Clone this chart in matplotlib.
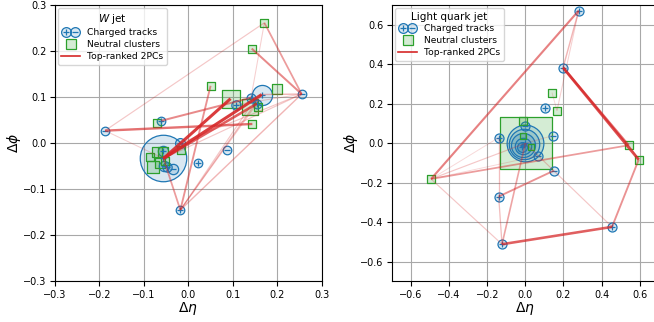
import matplotlib
matplotlib.use("Agg")
import matplotlib.pyplot as plt
from matplotlib.lines import Line2D
from matplotlib.legend_handler import HandlerTuple

# W jet: charged tracks (eta, phi, charge, pt) and neutral clusters (eta, phi, e)
w_trk_eta = [-0.1875, -0.061, 0.255, 0.108, 0.087, 0.022, -0.018, 0.141, 0.154, 0.165, -0.019, -0.056, -0.056, -0.054, -0.035, -0.048]
w_trk_phi = [0.0275, 0.049, 0.107, 0.084, -0.0145, -0.0435, -0.145, 0.099, 0.086, 0.106, 0.0, -0.033, -0.016, -0.049, -0.056, -0.052]
w_trk_q = ['-', '+', '-', '+', '-', '+', '+', '+', '+', '+', '-', '+', '+', '-', '-', '+']
w_trk_pt = [3.8, 3.8, 3.8, 4.5, 3.8, 3.8, 3.8, 4.2, 4.0, 21.0, 5.0, 112.0, 5.5, 5.5, 5.5, 4.5]

w_neu_eta = [0.171, 0.1425, 0.050, 0.199, 0.095, 0.139, 0.157, -0.071, 0.144, -0.0164, -0.070, -0.086, -0.079, -0.064, -0.052, -0.056]
w_neu_phi = [0.262, 0.206, 0.125, 0.118, 0.097, 0.080, 0.080, 0.045, 0.042, -0.0146, -0.018, -0.030, -0.051, -0.042, -0.038, -0.018]
w_neu_e = [2.8, 2.8, 2.8, 6.0, 15.0, 13.0, 2.8, 2.8, 2.8, 3.3, 5.0, 3.3, 7.5, 5.0, 3.3, 4.2]

# pairs (a, b, score) of the top-ranked 2PCs
w_pairs = [
    ("c11", "n4", 1.0), ("c11", "c9", 1.0), ("c11", "c8", 0.8), ("c0", "n8", 0.7),
    ("c1", "c7", 0.55), ("c0", "n0", 0.2), ("c0", "c11", 0.15), ("n0", "c2", 0.45),
    ("n1", "c2", 0.55), ("n0", "c7", 0.15), ("c6", "n2", 0.5), ("c6", "c11", 0.45),
    ("c6", "c2", 0.3), ("c6", "c8", 0.2), ("c6", "c9", 0.25), ("c6", "n5", 0.2),
    ("c11", "c2", 0.2), ("c2", "c10", 0.2), ("c2", "c3", 0.15), ("c9", "c2", 0.3),
]

# light quark jet
q_trk_eta = [0.280, 0.198, 0.105, 0.0, -0.14, 0.145, 0.065, 0.149, -0.14, -0.1225, 0.455, 0.0, -0.005, -0.01, -0.012, -0.015]
q_trk_phi = [0.673, 0.384, 0.177, 0.088, 0.029, 0.039, -0.064, -0.139, -0.27, -0.512, -0.424, 0.0, -0.005, -0.01, -0.015, -0.02]
q_trk_q = ['+', '+', '+', '-', '+', '-', '-', '-', '+', '+', '+', '+', '-', '+', '-', '+']
q_trk_pt = [4.2, 4.2, 4.2, 4.2, 4.2, 4.2, 4.2, 4.2, 4.2, 4.2, 4.2, 70.0, 48.0, 30.0, 14.0, 5.0]

q_neu_eta = [0.14, 0.166, -0.012, 0.005, 0.542, 0.595, -0.495, -0.01, 0.03]
q_neu_phi = [0.257, 0.166, 0.113, 0.0, -0.01, -0.083, -0.181, 0.035, -0.02]
q_neu_e = [2.8, 2.8, 2.8, 135.0, 2.8, 2.8, 2.8, 1.8, 1.8]

q_pairs = [
    ("n6", "c0", 0.6), ("c0", "c1", 0.3), ("c1", "n5", 0.9), ("c1", "n4", 0.7),
    ("c0", "n1", 0.15), ("n5", "c10", 0.5), ("c10", "c9", 0.8), ("c9", "c8", 0.25),
    ("c9", "c11", 0.4), ("c8", "c7", 0.5), ("n6", "n4", 0.45), ("n6", "c11", 0.2),
    ("n6", "c9", 0.2), ("n6", "c4", 0.1), ("c11", "c10", 0.2), ("c4", "c8", 0.25),
    ("n6", "c6", 0.1), ("n4", "n5", 0.3), ("c11", "c5", 0.1), ("n0", "n1", 0.1),
]

BLUE = "#1f77b4"
GREEN = "#2ca02c"
RED = "#d62728"
BLUE_F = (0.12, 0.47, 0.71, 0.17)
GREEN_F = (0.17, 0.63, 0.17, 0.2)


def draw_jet(ax, te, tp, tq, tpt, ne, nphi, nen, pairs):
    marks = []
    for x, y, q, pt in zip(te, tp, tq, tpt):
        marks.append((pt * 10, "o", x, y, BLUE_F, BLUE))
    for x, y, e in zip(ne, nphi, nen):
        marks.append((e * 10, "s", x, y, GREEN_F, GREEN))
    marks.sort(key=lambda m: -m[0])
    for k, (s, mk, x, y, fc, ec) in enumerate(marks):
        ax.scatter([x], [y], s=s, marker=mk, facecolor=fc, edgecolor=ec,
                   linewidth=0.9, zorder=3 + k * 0.01)
    for x, y, q in zip(te, tp, tq):
        ax.scatter([x], [y], s=14, marker="+" if q == "+" else "_",
                   color=BLUE, linewidth=0.9, zorder=4)

    def pos(key):
        i = int(key[1:])
        if key[0] == "c":
            return te[i], tp[i]
        return ne[i], nphi[i]

    for a, b, w in pairs:
        (x0, y0), (x1, y1) = pos(a), pos(b)
        ax.plot([x0, x1], [y0, y1], color=RED, alpha=0.1 + 0.8 * w,
                linewidth=0.5 + 1.7 * w, zorder=5, solid_capstyle="butt")


def style(ax, lim, step, title):
    ax.set_xlim(-lim, lim)
    ax.set_ylim(-lim, lim)
    n = int(round(lim / step))
    ticks = [round(i * step, 2) for i in range(-n, n + 1)]
    ax.set_xticks(ticks)
    ax.set_yticks(ticks)
    ax.tick_params(labelsize=7, length=3.5, width=0.8, pad=2.5)
    ax.grid(True, color="#a8a8a8", linewidth=0.8)
    ax.set_axisbelow(True)
    ax.set_xlabel(r"$\Delta\eta$", fontsize=10, labelpad=0)
    ax.set_ylabel(r"$\Delta\phi$", fontsize=10, labelpad=0)

    c_plus = (Line2D([], [], marker="o", ms=7, ls="", mfc=BLUE_F, mec=BLUE, mew=0.9),
              Line2D([], [], marker="+", ms=4, ls="", color=BLUE, mew=0.9))
    c_minus = (Line2D([], [], marker="o", ms=7, ls="", mfc=BLUE_F, mec=BLUE, mew=0.9),
               Line2D([], [], marker="_", ms=4, ls="", color=BLUE, mew=0.9))
    charged = (c_plus, c_minus)
    neutral = Line2D([], [], marker="s", ms=7, ls="", mfc=GREEN_F, mec=GREEN, mew=0.9)
    pcs = Line2D([], [], color=RED, lw=1.2)
    leg = ax.legend([charged, neutral, pcs],
                    ["Charged tracks", "Neutral clusters", "Top-ranked 2PCs"],
                    handler_map={charged: HandlerTuple(ndivide=None, pad=0.0)},
                    loc="upper left", fontsize=6.6, title=title, title_fontsize=7.5,
                    handlelength=2.0, handletextpad=0.8, borderaxespad=0.3,
                    labelspacing=0.3, framealpha=0.8)
    leg.set_zorder(10)


fig = plt.figure(figsize=(6.54, 3.22), dpi=100)
ax1 = fig.add_axes([55 / 654, 40.7 / 322, 266.7 / 654, 276 / 322])
ax2 = fig.add_axes([392 / 654, 40.7 / 322, 266.7 / 654, 276 / 322])

draw_jet(ax1, w_trk_eta, w_trk_phi, w_trk_q, w_trk_pt, w_neu_eta, w_neu_phi, w_neu_e, w_pairs)
draw_jet(ax2, q_trk_eta, q_trk_phi, q_trk_q, q_trk_pt, q_neu_eta, q_neu_phi, q_neu_e, q_pairs)
style(ax1, 0.3, 0.1, r"$W$ jet")
style(ax2, 0.7, 0.2, "Light quark jet")
ax2.set_yticks([-0.6, -0.4, -0.2, 0.0, 0.2, 0.4, 0.6])
ax2.set_xticks([-0.6, -0.4, -0.2, 0.0, 0.2, 0.4, 0.6])
ax2.set_xlim(-0.7, 0.7)
ax2.set_ylim(-0.7, 0.7)

fig.savefig("out.png", dpi=100)
